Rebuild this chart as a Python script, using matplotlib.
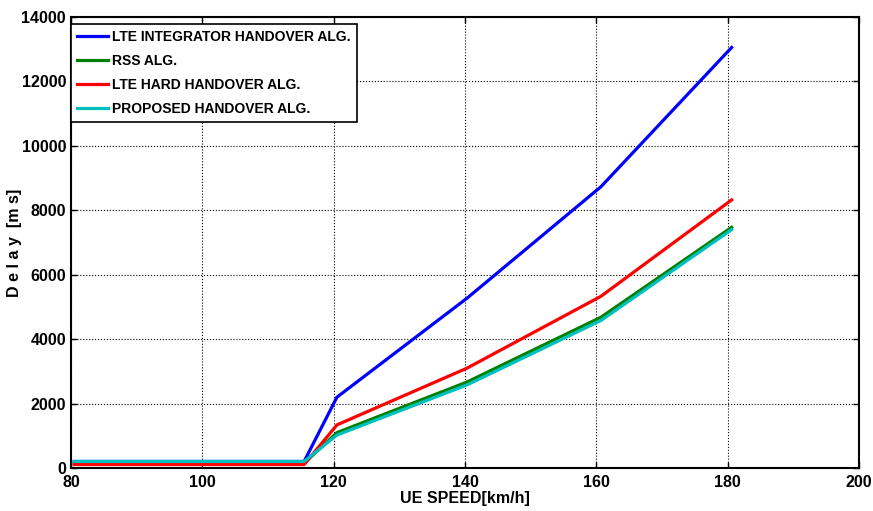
import matplotlib
matplotlib.use("Agg")
import matplotlib.pyplot as plt

plt.rcParams['font.family'] = ['Liberation Sans', 'DejaVu Sans']
plt.rcParams['font.weight'] = 'bold'

speed = [80.5, 115.5, 120.5, 140.3, 160.7, 180.6]
lte_integrator = [205, 205, 2200, 5270, 8730, 13050]
rss = [150, 150, 1100, 2670, 4680, 7470]
lte_hard = [110, 110, 1340, 3100, 5330, 8320]
proposed = [205, 205, 1025, 2580, 4580, 7400]

fig = plt.figure(figsize=(8.73, 5.11), dpi=100)
ax = fig.add_axes([0.0813, 0.084, 0.9027, 0.883])

ax.plot(speed, lte_integrator, color='#0000ff', lw=2.3, label='LTE INTEGRATOR HANDOVER ALG.')
ax.plot(speed, rss, color='#008000', lw=2.3, label='RSS ALG.')
ax.plot(speed, lte_hard, color='#ff0000', lw=2.3, label='LTE HARD HANDOVER ALG.')
ax.plot(speed, proposed, color='#00bfbf', lw=2.3, label='PROPOSED HANDOVER ALG.')

ax.set_xlim(80, 200)
ax.set_ylim(0, 14000)
ax.set_xticks([80, 100, 120, 140, 160, 180, 200])
ax.set_yticks(range(0, 14001, 2000))
ax.grid(True, color='black', linestyle=':', linewidth=0.8)
ax.tick_params(direction='in', labelsize=11.5, width=1, length=4, top=True, right=True,
               labeltop=False, labelright=False)
ax.tick_params(axis='x', pad=5)
for lbl in ax.get_xticklabels() + ax.get_yticklabels():
    lbl.set_fontweight('bold')
for sp in ax.spines.values():
    sp.set_linewidth(1.5)

ax.set_xlabel('UE SPEED[km/h]', fontsize=11.5, fontweight='bold', labelpad=1)
ax.set_ylabel('D e l a y  [m s]', fontsize=11.5, fontweight='bold')
ax.yaxis.set_label_coords(-0.062, 0.5)

leg = ax.legend(loc='upper left', bbox_to_anchor=(0.0, 0.985), borderaxespad=0,
                fontsize=10, frameon=True, fancybox=False, edgecolor='black',
                framealpha=1, handlelength=2.2, labelspacing=0.72, borderpad=0.45,
                handletextpad=0.3)
leg.get_frame().set_linewidth(1.2)
for t in leg.get_texts():
    t.set_fontweight('bold')

fig.savefig('out.png', dpi=100)
